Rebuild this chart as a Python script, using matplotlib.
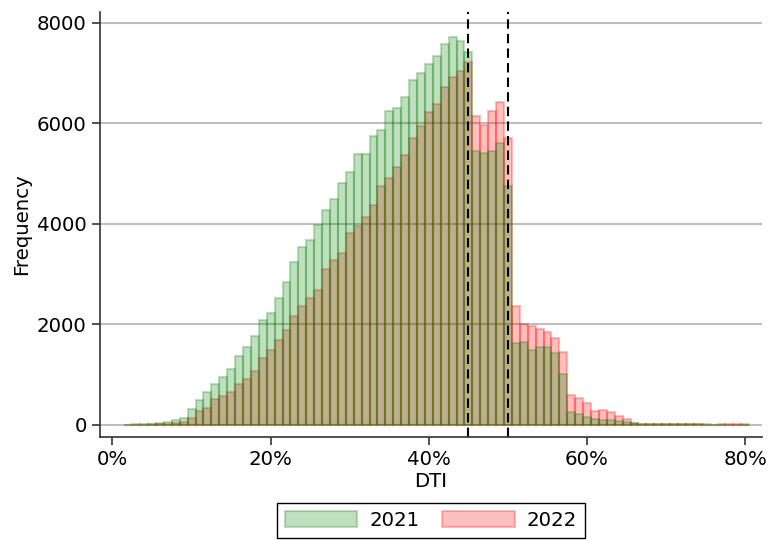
import numpy as np
import matplotlib.pyplot as plt
from matplotlib.ticker import FuncFormatter

# === Dados (frequencia por DTI, em %) ===
dti = list(range(2, 81))

freq_2021 = [5, 7, 13, 20, 35, 60, 100, 135, 305, 500,
             660, 810, 960, 1120, 1365, 1545, 1765, 2085, 2235, 2530,
             2850, 3235, 3530, 3670, 3985, 4270, 4500, 4810, 5040, 5400,
             5400, 5750, 5865, 6242, 6300, 6520, 6860, 7010, 7180, 7340,
             7580, 7715, 7648, 7430, 5458, 5405, 5445, 5604, 4756, 1624,
             1658, 1492, 1545, 1545, 1425, 1010, 255, 215, 155, 119,
             99, 95, 73, 60, 27, 20, 18, 15, 14, 12,
             10, 9, 8, 7, 6, 18, 4, 4, 15]

freq_2022 = [4, 5, 6, 8, 12, 25, 40, 60, 128, 280,
             335, 510, 568, 650, 815, 912, 1075, 1322, 1488, 1690,
             1893, 2165, 2370, 2515, 2680, 3092, 3275, 3416, 3814, 3966,
             4145, 4378, 4756, 4909, 5128, 5373, 5711, 5956, 6223, 6382,
             6726, 6931, 7045, 7225, 6155, 5963, 6242, 6434, 5704, 2367,
             2002, 1976, 1903, 1856, 1724, 1440, 585, 528, 431, 280,
             295, 252, 179, 113, 27, 20, 16, 14, 12, 10,
             9, 8, 7, 6, 5, 3, 15, 15, 0]

limites = [45, 50]

# === Grafico ===
plt.rcParams['font.size'] = 14.2
fig = plt.figure(figsize=(7.68, 5.4), dpi=100)
ax = fig.add_axes([0.130, 0.191, 0.862, 0.787])

ax.bar(dti, freq_2022, width=1.0, color="red", edgecolor="red",
       alpha=0.25, linewidth=1.5, label="2022")
ax.bar(dti, freq_2021, width=1.0, color="green", edgecolor="green",
       alpha=0.25, linewidth=1.5, label="2021")

for lim in limites:
    ax.axvline(lim, color="black", linestyle=(0, (4.5, 2.5)), linewidth=1.5)

ax.set_xlim(-1.6, 82.1)
ax.set_ylim(-240, 8220)
ax.set_xticks([0, 20, 40, 60, 80])
ax.set_yticks([0, 2000, 4000, 6000, 8000])
ax.xaxis.set_major_formatter(FuncFormatter(lambda v, _: f"{v:.0f}%"))

ax.set_xlabel("DTI", labelpad=2)
ax.set_ylabel("Frequency")
ax.yaxis.grid(True, color="#bebebe", linewidth=1.5)
ax.set_axisbelow(True)
for lado in ["top", "right"]:
    ax.spines[lado].set_visible(False)
for lado in ["left", "bottom"]:
    ax.spines[lado].set_color("#333333")
    ax.spines[lado].set_linewidth(1.2)
ax.tick_params(length=6, width=1.2, color="#333333")

handles, labels = ax.get_legend_handles_labels()
leg = ax.legend(handles[::-1], labels[::-1], loc="upper center",
                bbox_to_anchor=(0.5, -0.155), ncol=2, fancybox=False,
                framealpha=1, edgecolor="black", handlelength=3.7,
                handleheight=0.9, handletextpad=0.6, columnspacing=1.15,
                borderaxespad=0)
leg.get_frame().set_linewidth(1.0)

plt.savefig("out.png", dpi=100)
